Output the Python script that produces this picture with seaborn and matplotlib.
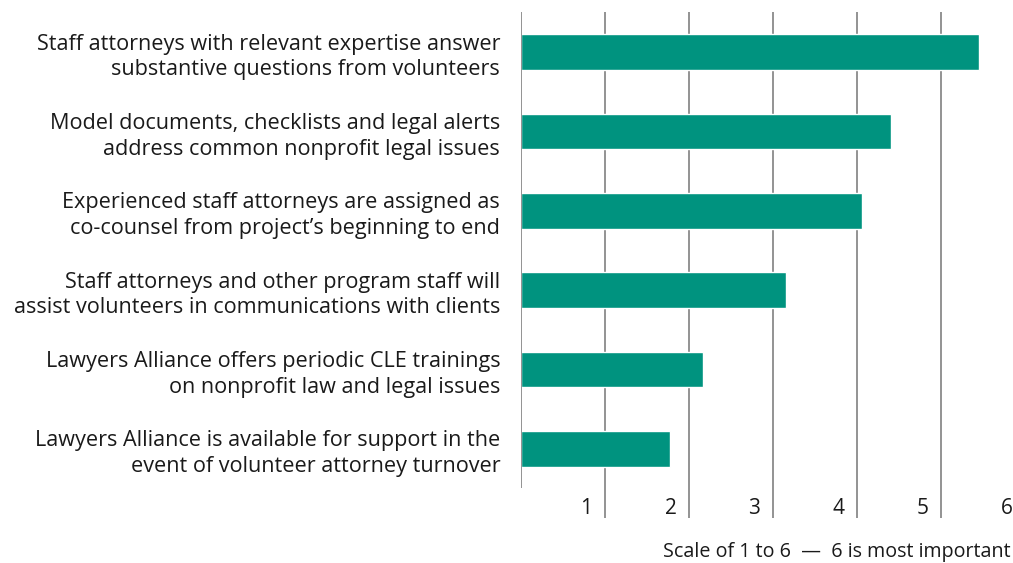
import numpy as np
import pandas as pd
import seaborn as sns
import matplotlib.pyplot as plt

items = [
    "Staff attorneys with relevant expertise answer\nsubstantive questions from volunteers",
    "Model documents, checklists and legal alerts\naddress common nonprofit legal issues",
    "Experienced staff attorneys are assigned as\nco-counsel from project\u2019s beginning to end",
    "Staff attorneys and other program staff will\nassist volunteers in communications with clients",
    "Lawyers Alliance offers periodic CLE trainings\non nonprofit law and legal issues",
    "Lawyers Alliance is available for support in the\nevent of volunteer attorney turnover",
]
scores = [5.45, 4.40, 4.06, 3.15, 2.17, 1.77]
scale_ticks = [1, 2, 3, 4, 5, 6]

df = pd.DataFrame({"item": items, "score": scores})

sns.set_style("white")
plt.rcParams['font.family'] = ['Open Sans', 'DejaVu Sans']

W, H = 1013, 563
fig = plt.figure(figsize=(W / 100, H / 100), dpi=100)
ax = fig.add_axes([521 / W, 1 - 518 / H, 1 - 521 / W, (518 - 12) / H])

sns.barplot(data=df, x="score", y="item", orient="h", color="#00937F",
            saturation=1, width=0.45, ax=ax, zorder=3)

ax.set_xlim(0, (W - 521) / 84)
ax.set_ylim(5.87, -0.504)

# gridlines
ax.vlines(scale_ticks[:-1], -0.504, 5.87, color="#8a8a8a", lw=1.3, zorder=1)
ax.vlines(0, -0.504, 5.49, color="#8a8a8a", lw=1.3, zorder=4)

for t in scale_ticks:
    ax.text(t - 0.15, 5.75, str(t), ha="right", va="center", fontsize=15,
            color="#1a1a1a", clip_on=False)

ax.set_xticks([])
ax.set_xlabel("")
ax.set_ylabel("")
ax.tick_params(axis="y", length=0, pad=15, labelsize=15.6, labelcolor="#1a1a1a")
for lab in ax.get_yticklabels():
    lab.set_horizontalalignment("right")
    lab.set_linespacing(1.3)
for s in ax.spines.values():
    s.set_visible(False)

fig.text(0.998, 1 - 552 / H, "Scale of 1 to 6  \u2014  6 is most important",
         ha="right", va="center", fontsize=14.2, color="#1a1a1a")

fig.savefig("out.png", dpi=100)
